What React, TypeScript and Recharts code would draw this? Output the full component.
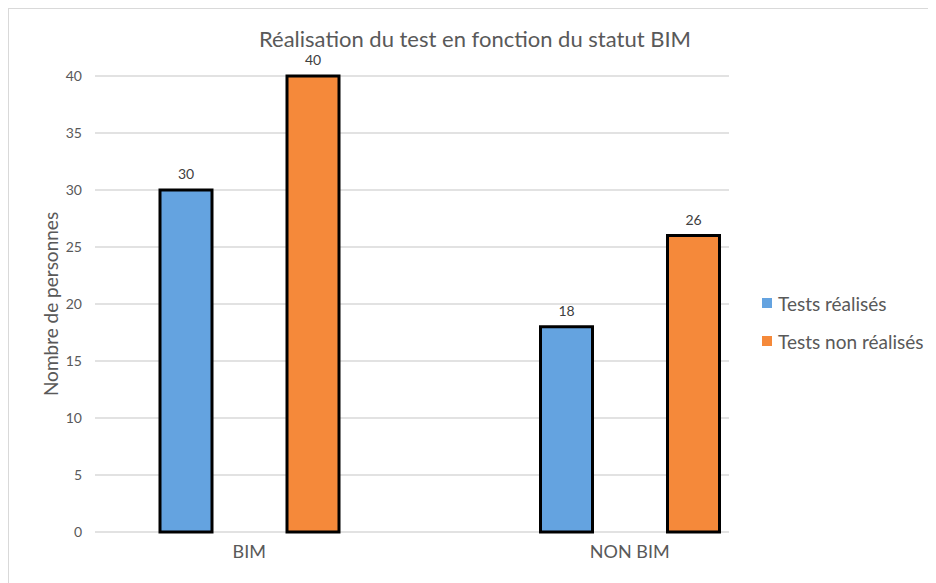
import { BarChart, Bar, XAxis, YAxis, CartesianGrid, LabelList } from 'recharts'

const categories = ['BIM', 'NON BIM']
const testsRealises = [30, 18]
const testsNonRealises = [40, 26]
const yTicks = [0, 5, 10, 15, 20, 25, 30, 35, 40]

const series = [
  { key: 'realises', name: 'Tests réalisés', color: '#64A3E0' },
  { key: 'nonRealises', name: 'Tests non réalisés', color: '#F5893A' },
]

const data = categories.map((c, i) => ({
  name: c,
  realises: testsRealises[i],
  nonRealises: testsNonRealises[i],
}))

const font = 'Lato, "Open Sans", sans-serif'

// rotated y axis title, centred on the plot area
function YTitle(props: any) {
  const vb = props.viewBox
  const cx = 41
  const cy = vb.y + vb.height / 2
  return (
    <text
      x={cx}
      y={cy}
      transform={`rotate(-90, ${cx}, ${cy})`}
      textAnchor="middle"
      dominantBaseline="central"
      fill="#595959"
      fontSize={19}
      fontFamily={font}
    >
      Nombre de personnes
    </text>
  )
}

export default function App() {
  return (
    <div
      style={{
        position: 'relative',
        width: 927,
        height: 574,
        borderTop: '1px solid #d9d9d9',
        borderLeft: '1px solid #d9d9d9',
        fontFamily: font,
      }}
    >
      <div
        style={{
          position: 'absolute',
          top: 16,
          left: 0,
          width: 932,
          textAlign: 'center',
          fontSize: 22,
          color: '#595959',
          zIndex: 1,
        }}
      >
        Réalisation du test en fonction du statut BIM
      </div>
      <BarChart
        width={927}
        height={574}
        data={data}
        margin={{ top: 67, right: 207, left: 0, bottom: 0 }}
        barSize={52}
        barGap={75}
      >
        <CartesianGrid vertical={false} stroke="#d9d9d9" strokeWidth={1.5} />
        <XAxis
          dataKey="name"
          height={51}
          axisLine={false}
          tickLine={false}
          tickSize={0}
          tickMargin={13}
          padding={{ left: -36, right: -91 }}
          tick={{ fill: '#595959', fontSize: 18, fontFamily: font }}
        />
        <YAxis
          width={86}
          domain={[0, 40]}
          ticks={yTicks}
          axisLine={false}
          tickLine={false}
          tickSize={0}
          tickMargin={13}
          tick={{ fill: '#595959', fontSize: 14, fontFamily: font }}
          label={<YTitle />}
        />
        {series.map((s) => (
          <Bar
            key={s.key}
            dataKey={s.key}
            name={s.name}
            fill={s.color}
            stroke="#000"
            strokeWidth={3}
            isAnimationActive={false}
          >
            <LabelList
              dataKey={s.key}
              position="top"
              offset={11}
              style={{ fill: '#404040', fontSize: 14, fontFamily: font }}
            />
          </Bar>
        ))}
      </BarChart>
      <div
        style={{
          position: 'absolute',
          left: 753,
          top: 275,
          fontSize: 19,
          color: '#595959',
        }}
      >
        {series.map((s) => (
          <div key={s.key} style={{ display: 'flex', alignItems: 'center', height: 38 }}>
            <span
              style={{
                display: 'inline-block',
                width: 10,
                height: 10,
                background: s.color,
                marginRight: 6,
              }}
            />
            {s.name}
          </div>
        ))}
      </div>
    </div>
  )
}
